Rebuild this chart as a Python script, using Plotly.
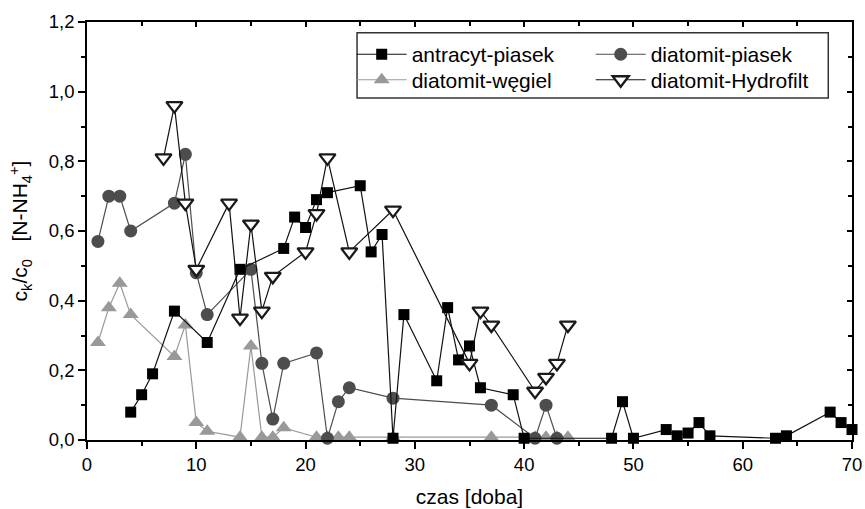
import plotly.graph_objects as go

# ---- data ----
ap_x = [4, 5, 6, 8, 11, 14, 18, 19, 20, 21, 22, 25, 26, 27, 28, 29, 32, 33, 34, 35, 36, 39, 40,
        48, 49, 50, 53, 54, 55, 56, 57, 63, 64, 68, 69, 70]
ap_y = [0.08, 0.13, 0.19, 0.37, 0.28, 0.49, 0.55, 0.64, 0.61, 0.69, 0.71, 0.73, 0.54, 0.59, 0.005,
        0.36, 0.17, 0.38, 0.23, 0.27, 0.15, 0.13, 0.005,
        0.005, 0.11, 0.005, 0.03, 0.012, 0.02, 0.05, 0.012, 0.005, 0.012, 0.08, 0.05, 0.03]

dp_x = [1, 2, 3, 4, 8, 9, 10, 11, 15, 16, 17, 18, 21, 22, 23, 24, 28, 37, 41, 42, 43]
dp_y = [0.57, 0.70, 0.70, 0.60, 0.68, 0.82, 0.48, 0.36, 0.49, 0.22, 0.06, 0.22, 0.25, 0.005,
        0.11, 0.15, 0.12, 0.10, 0.005, 0.10, 0.005]

dw_x = [1, 2, 3, 4, 8, 9, 10, 11, 14, 15, 16, 17, 18, 21, 22, 23, 24, 28, 37, 41, 42, 43, 44]
dw_y = [0.28, 0.38, 0.45, 0.36, 0.24, 0.33, 0.05, 0.025, 0.008, 0.27, 0.008, 0.008, 0.035,
        0.008, 0.008, 0.008, 0.008, 0.008, 0.008, 0.008, 0.008, 0.008, 0.008]

dh_x = [7, 8, 9, 10, 13, 14, 15, 16, 17, 20, 21, 22, 24, 28, 35, 36, 37, 41, 42, 43, 44]
dh_y = [0.81, 0.96, 0.68, 0.49, 0.68, 0.35, 0.62, 0.37, 0.47, 0.54, 0.65, 0.81, 0.54, 0.66,
        0.22, 0.37, 0.33, 0.14, 0.18, 0.22, 0.33]

names = ["antracyt-piasek", "diatomit-piasek", "diatomit-węgiel", "diatomit-Hydrofilt"]

x_ticks = [0, 10, 20, 30, 40, 50, 60, 70]
y_ticks = [0.0, 0.2, 0.4, 0.6, 0.8, 1.0, 1.2]
y_ticktext = ["0,0", "0,2", "0,4", "0,6", "0,8", "1,0", "1,2"]

FONT = "Liberation Sans, Arial, sans-serif"

fig = go.Figure()

fig.add_trace(go.Scatter(
    x=dw_x, y=dw_y, name=names[2], mode="lines+markers", legend="legend2",
    line=dict(color="#999999", width=1.2),
    marker=dict(symbol="triangle-up", size=14, color="#999999"), cliponaxis=False))
fig.add_trace(go.Scatter(
    x=dp_x, y=dp_y, name=names[1], mode="lines+markers", legend="legend",
    line=dict(color="#4d4d4d", width=1.2),
    marker=dict(symbol="circle", size=13, color="#4d4d4d"), cliponaxis=False))
fig.add_trace(go.Scatter(
    x=ap_x, y=ap_y, name=names[0], mode="lines+markers", legend="legend",
    line=dict(color="#111111", width=1.2),
    marker=dict(symbol="square", size=11, color="#000000"), cliponaxis=False))
fig.add_trace(go.Scatter(
    x=dh_x, y=dh_y, name=names[3], mode="lines+markers", legend="legend2",
    line=dict(color="#111111", width=1.2),
    marker=dict(symbol="triangle-down", size=14, color="white",
                line=dict(color="#1a1a1a", width=2.3)), cliponaxis=False))

fig.add_trace(go.Scatter(x=[None], y=[None], xaxis="x2", yaxis="y2",
                         showlegend=False, hoverinfo="skip"))

axis_common = dict(showgrid=False, zeroline=False, showline=True, linecolor="black",
                   linewidth=1.5, tickcolor="black", tickwidth=1.5, automargin=False,
                   tickfont=dict(family=FONT, size=18.5, color="black"))

fig.update_layout(
    width=865, height=509,
    margin=dict(l=87, r=13, t=22, b=69),
    paper_bgcolor="white", plot_bgcolor="white",
    font=dict(family=FONT, color="black"),
    xaxis=dict(range=[0, 70], tickvals=x_ticks, ticks="outside", ticklen=7,
               minor=dict(dtick=5, ticks="outside", ticklen=4, tickcolor="black", tickwidth=1.5),
               title=dict(text="czas [doba]", font=dict(family=FONT, size=21)),
               **axis_common),
    yaxis=dict(range=[0, 1.2], tickvals=y_ticks, ticktext=y_ticktext, ticks="outside", ticklen=7,
               minor=dict(dtick=0.1, ticks="outside", ticklen=4, tickcolor="black", tickwidth=1.5),
               title=dict(text="c<sub>k</sub>/c<sub>0</sub>\u00a0\u00a0\u00a0[N-NH<sub>4</sub><sup>+</sup>]",
                          font=dict(family=FONT, size=21)),
               **axis_common),
    xaxis2=dict(range=[0, 70], overlaying="x", side="top", anchor="y2", showticklabels=False,
                showgrid=False, zeroline=False, showline=True, linecolor="black", linewidth=1.5,
                ticks="inside", tickvals=x_ticks, ticklen=5, tickcolor="black", tickwidth=1.5,
                minor=dict(dtick=5, ticks="inside", ticklen=4, tickcolor="black", tickwidth=1.5)),
    yaxis2=dict(range=[0, 1.2], overlaying="y", side="right", anchor="x2", showticklabels=False,
                showgrid=False, zeroline=False, showline=True, linecolor="black", linewidth=1.5,
                ticks="inside", tickvals=y_ticks, ticklen=5, tickcolor="black", tickwidth=1.5,
                minor=dict(dtick=0.1, ticks="inside", ticklen=4, tickcolor="black", tickwidth=1.5)),
    legend=dict(x=0.346, y=0.922, xanchor="left", yanchor="middle", orientation="h",
                bgcolor="rgba(0,0,0,0)", borderwidth=0, itemwidth=50,
                entrywidth=174, traceorder="reversed",
                font=dict(family=FONT, size=21, color="black")),
    legend2=dict(x=0.346, y=0.861, xanchor="left", yanchor="middle", orientation="h",
                 bgcolor="rgba(0,0,0,0)", borderwidth=0, itemwidth=50,
                 entrywidth=174, traceorder="normal",
                 font=dict(family=FONT, size=21, color="black")),
    shapes=[dict(type="rect", xref="paper", yref="paper", x0=0.353, x1=0.969, y0=0.818, y1=0.974,
                 line=dict(color="#333333", width=1.5), fillcolor="rgba(0,0,0,0)")],
)

fig.write_html("out.html", config={"displayModeBar": False},
               post_script="document.body.style.margin='0px';")
